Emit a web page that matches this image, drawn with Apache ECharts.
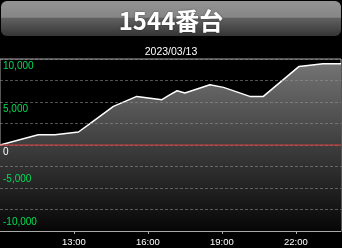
<!DOCTYPE html>
<html>
<head>
<meta charset="utf-8">
<style>
html,body{margin:0;padding:0;background:#000;}
#c{width:342px;height:248px;}
</style>
<script src="https://cdn.jsdelivr.net/npm/echarts@6/dist/echarts.min.js"></script>
</head>
<body>
<div id="c"></div>
<script>
var titleText = '1544番台';
var dateText = '2023/03/13';
var times = ['10:00','11:33','12:14','13:11','13:39','14:36','15:33','16:34','16:54','17:11','17:30','18:31','19:04','20:08','20:41','22:08','23:06','23:50'];
var values = [0,1200,1200,1510,2480,4490,5650,5270,5850,6310,6050,7010,6700,5650,5650,9140,9450,9450];
var baselineValue = 0;
var yTicks = [-10000,-5000,0,5000,10000];
var xTickLabels = ['13:00','16:00','19:00','22:00'];

function toHours(t){var p=t.split(':');return +p[0]+(+p[1])/60;}
function fmtNum(v){return v.toLocaleString('en-US');}
var data = times.map(function(t,i){return [toHours(t), values[i]];});
var xMin = 10, xMax = toHours(times[times.length-1]);
var gl = 'rgba(150,150,150,0.55)';

var chart = echarts.init(document.getElementById('c'));
chart.setOption({
  backgroundColor:'#000',
  animation:false,
  graphic:[{
    type:'rect', z:0,
    shape:{x:1,y:1,width:340,height:35,r:6},
    style:{fill:new echarts.graphic.LinearGradient(0,0,0,1,[
      {offset:0,color:'#939393'},
      {offset:0.46,color:'#868686'},
      {offset:0.5,color:'#606060'},
      {offset:1,color:'#353535'}
    ])}
  }],
  title:[{
    text:titleText, left:'center', top:4,
    textStyle:{color:'#fff',fontSize:24,fontWeight:'bold',fontFamily:'Noto Sans CJK JP',
      textShadowColor:'rgba(0,0,0,0.5)',textShadowBlur:2}
  },{
    text:dateText, left:'center', top:42,
    textStyle:{color:'#fff',fontSize:10.5,fontWeight:'normal',fontFamily:'Liberation Sans'}
  }],
  grid:{left:0,right:1,top:59,bottom:17,show:true,borderColor:'#aaa',borderWidth:1,backgroundColor:'transparent'},
  xAxis:{
    type:'value', min:xMin, max:xMax, interval:3, z:12,
    axisLine:{show:true,onZero:false,lineStyle:{color:'#aaa'}},
    axisTick:{show:true,length:3,lineStyle:{color:'#aaa'}},
    splitLine:{show:false},
    axisLabel:{color:'#fff',fontSize:9.5,fontFamily:'Liberation Sans',margin:6,showMinLabel:false,showMaxLabel:false,
      formatter:function(v){var s=(v<10?'0':'')+Math.round(v)+':00';return xTickLabels.indexOf(s)>=0?s:'';}}
  },
  yAxis:[{
    type:'value', min:-10000, max:10000, interval:2500, z:10,
    axisLine:{show:false}, axisTick:{show:false},
    splitLine:{show:true,lineStyle:{color:gl,type:[3,2],width:1}},
    axisLabel:{inside:true,margin:3,verticalAlign:'top',lineHeight:14,fontSize:10,fontFamily:'Liberation Sans',
      color:function(v){return +v===0?'#ffffff':'#00dd55';},
      formatter:function(v){return (v>=0 && yTicks.indexOf(v)>=0)?fmtNum(v):'';}}
  },{
    type:'value', min:-10000, max:10000, interval:2500, position:'left', z:10,
    axisLine:{show:false}, axisTick:{show:false}, splitLine:{show:false},
    axisLabel:{inside:true,margin:3,verticalAlign:'bottom',lineHeight:18,fontSize:10,fontFamily:'Liberation Sans',color:'#00dd55',
      formatter:function(v){return (v<0 && yTicks.indexOf(v)>=0)?fmtNum(v):'';}}
  }],
  series:[{
    type:'line', data:data, symbol:'none', xAxisIndex:0, yAxisIndex:0, z:2,
    lineStyle:{color:'#fff',width:1.5},
    areaStyle:{origin:'start',opacity:1,color:{type:'linear',x:0,y:59,x2:0,y2:231,global:true,colorStops:[
      {offset:0,color:'#767676'},{offset:1,color:'#060606'}]}}
  },{
    type:'line', data:[[xMin,baselineValue],[xMax,baselineValue]], symbol:'none', silent:true,
    xAxisIndex:0, yAxisIndex:0, z:11,
    lineStyle:{color:'#dc3c3c',width:1.2}
  }]
});
</script>
</body>
</html>
